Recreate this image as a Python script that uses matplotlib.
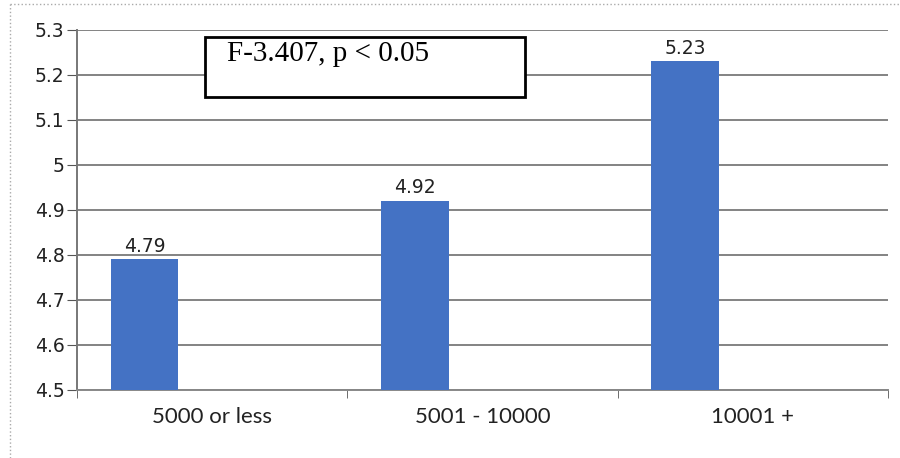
import matplotlib.pyplot as plt
from matplotlib.lines import Line2D
from matplotlib.patches import Rectangle

# data
categories = ['5000 or less', '5001 - 10000', '10001 +']
means = [4.79, 4.92, 5.23]
yticks = [4.5, 4.6, 4.7, 4.8, 4.9, 5.0, 5.1, 5.2, 5.3]
ytick_labels = ['4.5', '4.6', '4.7', '4.8', '4.9', '5', '5.1', '5.2', '5.3']
stat_text = 'F-3.407, p < 0.05'

fig = plt.figure(figsize=(9, 4.58), dpi=100)
ax = fig.add_axes([0.0856, 0.1485, 0.901, 0.786])

# bars sit on the left half of each category slot
pos = [i - 0.25 for i in range(len(categories))]
ax.bar(pos, means, width=0.25, color='#4472C4', zorder=3)
for x, v in zip(pos, means):
    ax.text(x, v + 0.008, f'{v:.2f}', ha='center', va='bottom',
            fontsize=13.5, family='DejaVu Sans', color='#222222')

ax.set_ylim(4.5, 5.3)
ax.set_xlim(-0.5, len(categories) - 0.5)
ax.set_yticks(yticks)
ax.set_yticklabels(ytick_labels, fontsize=13.5, family='DejaVu Sans', color='#222222')

# category labels centred, ticks at slot boundaries
ax.set_xticks(range(len(categories)))
ax.set_xticklabels(categories, fontsize=16, family='Lato', color='#222222')
ax.tick_params(axis='x', which='major', length=0, pad=12)
ax.set_xticks([i - 0.5 for i in range(len(categories) + 1)], minor=True)
ax.tick_params(axis='x', which='minor', length=6, color='#555555', direction='out')
ax.tick_params(axis='y', length=7, color='#555555', direction='out', pad=2)

ax.yaxis.grid(True, color='#7a7a7a', linewidth=1.3, zorder=0)
ax.set_axisbelow(True)
for s in ['top', 'right']:
    ax.spines[s].set_visible(False)
ax.spines['left'].set_color('#777777')
ax.spines['left'].set_linewidth(1.4)
ax.spines['bottom'].set_color('#888888')
ax.spines['bottom'].set_linewidth(1.4)

# statistics box
ax.add_patch(Rectangle((0.158, 0.814), 0.395, 0.167, transform=ax.transAxes,
                       facecolor='white', edgecolor='black', linewidth=2, zorder=5))
ax.text(0.185, 0.932, stat_text, transform=ax.transAxes, ha='left', va='center',
        fontsize=21, family='Liberation Serif', color='black', zorder=6)

# dotted chart-area border
fig.add_artist(Line2D([0.011, 0.011], [0.0, 0.991], transform=fig.transFigure,
                      color='#aaaaaa', linestyle=':', linewidth=1))
fig.add_artist(Line2D([0.011, 1.0], [0.991, 0.991], transform=fig.transFigure,
                      color='#aaaaaa', linestyle=':', linewidth=1))

fig.savefig('out.png', dpi=100)
